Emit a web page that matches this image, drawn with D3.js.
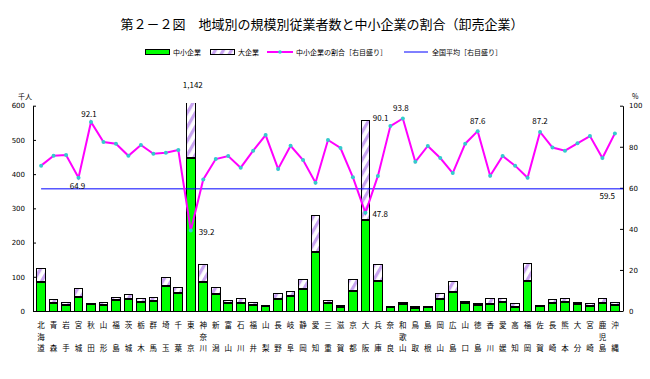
<!DOCTYPE html>
<html>
<head>
<meta charset="utf-8">
<script src="https://cdn.jsdelivr.net/npm/d3@7"></script>
<style>
  body { margin: 0; background: #fff; }
  svg { display: block; }
  text { font-family: "Noto Sans CJK JP", sans-serif; fill: #000; }
</style>
</head>
<body>
<svg width="650" height="379"></svg>
<script>
// prefectures, left to right
const prefs = ['北海道', '青森', '岩手', '宮城', '秋田', '山形', '福島', '茨城', '栃木', '群馬',
  '埼玉', '千葉', '東京', '神奈川', '新潟', '富山', '石川', '福井', '山梨', '長野',
  '岐阜', '静岡', '愛知', '三重', '滋賀', '京都', '大阪', '兵庫', '奈良', '和歌山',
  '鳥取', '島根', '岡山', '広島', '山口', '徳島', '香川', '愛媛', '高知', '福岡',
  '佐賀', '長崎', '熊本', '大分', '宮崎', '鹿児島', '沖縄']

// 中小企業 employees (thousand)
const smeValues = [87.5, 26, 20, 42, 21.5, 19.3, 33.3, 35.4, 28.4, 31.3,
  74.4, 52.8, 448, 86.2, 49.8, 23.6, 24.5, 18.3, 15, 36.4,
  44.8, 66.6, 173.5, 26, 13.9, 59, 267, 88.5, 13.2, 21.9,
  10.6, 11.7, 37, 57, 23.8, 17.9, 23.1, 26.5, 14.5, 89.2,
  15.3, 25.6, 27.4, 21.5, 17.5, 26.1, 20.2]

// 大企業 employees (thousand)
const largeValues = [35.5, 8.3, 6.3, 22.7, 1.8, 4.1, 7.6, 11.4, 6.7, 9.6,
  22.1, 14.5, 694, 48.3, 17.5, 7.6, 10.6, 5.1, 2.5, 16.2,
  10.8, 24, 104.3, 5.2, 3.6, 31.6, 291, 46, 1.4, 1.5,
  4, 2.9, 12.7, 27.8, 5.4, 2.6, 12, 8.6, 6, 48.2,
  2.2, 6.6, 7.7, 4.8, 3, 9, 3.2]

// 中小企業の割合 (%)
const ratioValues = [70.8, 75.6, 76.0, 64.9, 92.1, 82.3, 81.5, 75.6, 80.9, 76.6,
  77.1, 78.4, 39.2, 64.1, 74.0, 75.5, 69.8, 78.1, 85.7, 69.2,
  80.5, 73.5, 62.5, 83.3, 79.4, 65.1, 47.8, 65.8, 90.1, 93.8,
  72.7, 80.4, 74.5, 67.2, 81.5, 87.6, 65.9, 75.5, 70.8, 64.9,
  87.2, 79.6, 78.1, 81.7, 85.2, 74.5, 86.5]

const nationalAvg = 59.5
const leftTicks = [0, 100, 200, 300, 400, 500, 600]
const rightTicks = [0, 20, 40, 60, 80, 100]
const labelledPrefs = ['秋田', '宮城', '東京', '大阪', '奈良', '和歌山', '徳島', '佐賀']

let data = prefs.map((p, i) => ({
  pref: p,
  sme: smeValues[i],
  large: largeValues[i],
  ratio: ratioValues[i]
}))

const margin = { top: 105.7, right: 27, bottom: 68, left: 33 }
const width = 650
const height = 379

const x = d3.scaleBand()
  .domain(prefs)
  .range([margin.left, width - margin.right])
  .padding(0.3)

const yL = d3.scaleLinear()
  .domain([0, 600])
  .range([height - margin.bottom, margin.top])

const yR = d3.scaleLinear()
  .domain([0, 100])
  .range([height - margin.bottom, margin.top])

const svg = d3.select('svg')
const defs = svg.append('defs')

const hatch = defs.append('pattern')
  .attr('id', 'hatch')
  .attr('patternUnits', 'userSpaceOnUse')
  .attr('width', 7)
  .attr('height', 7)
  .attr('patternTransform', 'rotate(30)')
hatch.append('rect').attr('width', 7).attr('height', 7).attr('fill', '#fff')
hatch.append('rect').attr('width', 3.2).attr('height', 7).attr('fill', '#c8a4f0')

defs.append('clipPath').attr('id', 'plotClip')
  .append('rect')
  .attr('x', margin.left).attr('y', 103)
  .attr('width', width - margin.left - margin.right)
  .attr('height', height - margin.bottom - 103)

// title
svg.append('text')
  .attr('x', 322).attr('y', 29)
  .attr('text-anchor', 'middle')
  .style('font-size', '13px')
  .text('第２－２図　地域別の規模別従業者数と中小企業の割合（卸売企業）')

// legend
const lg = svg.append('g').attr('class', 'legend').style('font-size', '7px')
lg.append('rect').attr('x', 145.5).attr('y', 49.5).attr('width', 24).attr('height', 5)
  .attr('fill', '#00ff00').attr('stroke', '#000')
lg.append('text').attr('x', 173).attr('y', 55).text('中小企業')
lg.append('rect').attr('x', 210.5).attr('y', 49.5).attr('width', 24).attr('height', 5)
  .attr('fill', 'url(#hatch)').attr('stroke', '#000')
lg.append('text').attr('x', 238).attr('y', 55).text('大企業')
lg.append('line').attr('x1', 267).attr('x2', 293).attr('y1', 52).attr('y2', 52)
  .attr('stroke', '#ff00ff').attr('stroke-width', 2)
lg.append('circle').attr('cx', 280).attr('cy', 52).attr('r', 1.8).attr('fill', '#33cccc')
lg.append('text').attr('x', 296).attr('y', 55).text('中小企業の割合［右目盛り］')
lg.append('line').attr('x1', 404).attr('x2', 428).attr('y1', 52).attr('y2', 52)
  .attr('stroke', '#0000ff').attr('stroke-width', 1)
lg.append('text').attr('x', 432).attr('y', 55).text('全国平均［右目盛り］')

// bars
const bars = svg.append('g')
  .attr('clip-path', 'url(#plotClip)')
  .attr('shape-rendering', 'crispEdges')
  .selectAll('g')
  .data(data)
  .join('g')

bars.append('rect')
  .attr('x', d => x(d.pref))
  .attr('y', d => yL(d.sme))
  .attr('width', x.bandwidth())
  .attr('height', d => yL(0) - yL(d.sme))
  .attr('fill', '#00ff00')
  .attr('stroke', '#000')

bars.append('rect')
  .attr('x', d => x(d.pref))
  .attr('y', d => yL(d.sme + d.large))
  .attr('width', x.bandwidth())
  .attr('height', d => yL(d.sme) - yL(d.sme + d.large))
  .attr('fill', 'url(#hatch)')
  .attr('stroke', '#000')

// thick border where the two parts meet
bars.append('line')
  .attr('x1', d => x(d.pref))
  .attr('x2', d => x(d.pref) + x.bandwidth())
  .attr('y1', d => yL(d.sme) + 0.5)
  .attr('y2', d => yL(d.sme) + 0.5)
  .attr('stroke', '#000')
  .attr('stroke-width', 2)

// total for the clipped bar (東京)
data.filter(d => d.sme + d.large > 600).forEach(d => {
  svg.append('text')
    .attr('x', x(d.pref) + x.bandwidth() / 2 + 2)
    .attr('y', 88)
    .attr('text-anchor', 'middle')
    .style('font-size', '8px')
    .text(d3.format(',')(Math.round(d.sme + d.large)))
})

// axes
const yAxisL = g => g
  .attr('transform', `translate(${margin.left},0)`)
  .call(d3.axisLeft(yL).tickValues(leftTicks).tickSize(-3).tickSizeOuter(0).tickPadding(8))
const yAxisR = g => g
  .attr('transform', `translate(${width - margin.right},0)`)
  .call(d3.axisRight(yR).tickValues(rightTicks).tickSize(-3).tickSizeOuter(0).tickPadding(6))

svg.append('g').call(yAxisL).style('font-size', '7px')
svg.append('g').call(yAxisR).style('font-size', '7px')
svg.selectAll('.tick text').style('font-family', '"DejaVu Sans", sans-serif')

const rowBase = [17, 28.7, 40.3]
const gx = svg.append('g')
  .attr('transform', `translate(0,${height - margin.bottom})`)
  .call(d3.axisBottom(x).tickSize(0).tickSizeOuter(0))
gx.select('.domain').attr('d', `M${margin.left},0.5H${width - margin.right}`)
gx.selectAll('.tick text')
  .attr('y', null).attr('dy', null)
  .style('font-size', '7.5px')
  .text(null)
  .each(function(d) {
    const chars = [...d]
    const rows = chars.length === 2 ? [0, 2] : [0, 1, 2]
    d3.select(this).selectAll('tspan')
      .data(chars)
      .join('tspan')
      .attr('x', 0)
      .attr('y', (c, i) => rowBase[rows[i]])
      .text(c => c)
  })

svg.append('text').attr('x', 18).attr('y', 99).style('font-size', '7px').text('千人')
svg.append('text').attr('x', 632).attr('y', 99).style('font-size', '7px').text('%')

// national average
svg.append('line')
  .attr('x1', x(prefs[0]) + x.bandwidth() / 2)
  .attr('x2', width - margin.right)
  .attr('y1', yR(nationalAvg))
  .attr('y2', yR(nationalAvg))
  .attr('stroke', '#0000ff')
  .attr('stroke-width', 1)
svg.append('text')
  .attr('x', 615).attr('y', yR(nationalAvg) + 10)
  .attr('text-anchor', 'end')
  .style('font-size', '8px')
  .text(nationalAvg.toFixed(1))

// ratio line
const cx = d => x(d.pref) + x.bandwidth() / 2
const line = d3.line().x(cx).y(d => yR(d.ratio))
svg.append('path')
  .datum(data)
  .attr('fill', 'none')
  .attr('stroke', '#ff00ff')
  .attr('stroke-width', 2)
  .attr('d', line)

svg.append('g')
  .selectAll('circle')
  .data(data)
  .join('circle')
  .attr('cx', cx)
  .attr('cy', d => yR(d.ratio))
  .attr('r', 2)
  .attr('fill', '#33cccc')

// value labels on the line
const labelPos = {
  '秋田': { dx: -2, dy: -5, anchor: 'middle' },
  '宮城': { dx: -1, dy: 11, anchor: 'middle' },
  '東京': { dx: 8, dy: 4, anchor: 'start' },
  '大阪': { dx: 7, dy: 4, anchor: 'start' },
  '奈良': { dx: -2, dy: -5, anchor: 'end' },
  '和歌山': { dx: -2, dy: -7, anchor: 'middle' },
  '徳島': { dx: 0, dy: -7, anchor: 'middle' },
  '佐賀': { dx: 0, dy: -8, anchor: 'middle' }
}
svg.append('g')
  .style('font-size', '8px')
  .selectAll('text')
  .data(data.filter(d => labelledPrefs.includes(d.pref)))
  .join('text')
  .attr('x', d => cx(d) + labelPos[d.pref].dx)
  .attr('y', d => yR(d.ratio) + labelPos[d.pref].dy)
  .attr('text-anchor', d => labelPos[d.pref].anchor)
  .text(d => d.ratio.toFixed(1))
</script>
</body>
</html>
